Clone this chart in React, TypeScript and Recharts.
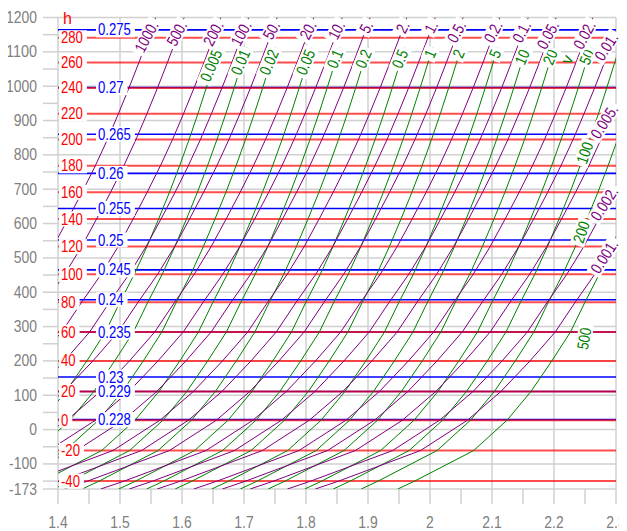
import React from 'react';
import { LineChart, Line, XAxis, YAxis, ReferenceLine, ReferenceDot } from 'recharts';

const FONT = "'Liberation Sans', Arial, sans-serif";
const GRID = '#d0d0d0';
const X_MIN = 1.4;
const X_MAX = 2.3;
const Y_MIN = -173;
const Y_MAX = 1200;

// axis ticks
const xMajorTicks = [1.4, 1.5, 1.6, 1.7, 1.8, 1.9, 2.0, 2.1, 2.2, 2.3];
const xTickLabels = ['1.4', '1.5', '1.6', '1.7', '1.8', '1.9', '2', '2.1', '2.2', '2.3'];
const xMinorTicks = [1.45, 1.55, 1.65, 1.75, 1.85, 1.95, 2.05, 2.15, 2.25];
const yMajorTicks = [-173, -100, 0, 100, 200, 300, 400, 500, 600, 700, 800, 900, 1000, 1100, 1200];
const yMinorTicks = [-150, -50, 50, 150, 250, 350, 450, 550, 650, 750, 850, 950, 1050, 1150];

// isotherms (red)
const tempLabels = ['-40', '-20', '0', '20', '40', '60', '80', '100', '120', '140', '160', '180', '200', '220', '240', '260', '280'];
const tempH = [-150, -61, 27, 111, 200, 284, 371, 452, 533, 613, 691, 768, 845, 920, 995, 1069, 1141];

// blue lines
const blueLabels = ['0.228', '0.229', '0.23', '0.235', '0.24', '0.245', '0.25', '0.255', '0.26', '0.265', '0.27', '0.275'];
const blueH = [29, 111, 153, 284, 378, 465, 552, 644, 746, 860, 996, 1164];

// isobars (purple): h levels, s offset along the curve, start s per curve
const purpleH = [-173, -150, -61, 27, 111, 200, 284, 371, 452, 533, 613, 691, 768, 845, 920, 995, 1069, 1141, 1200];
const purpleShape = [0, 0.0377, 0.1697, 0.2452, 0.2994, 0.3463, 0.3869, 0.4192, 0.4506, 0.4781, 0.5021, 0.5248, 0.5461, 0.5658, 0.5835, 0.6005, 0.6165, 0.6316, 0.6435];
const purpleLabels = ['1000.', '500.', '200.', '100.', '50.', '20.', '10.', '5.', '2.', '1.', '0.5.', '0.2.', '0.1.', '0.05.', '0.02.', '0.01.', '0.005.', '0.002.', '0.001.'];
const purpleStart = [0.914, 0.960, 1.019, 1.064, 1.110, 1.169, 1.215, 1.260, 1.319, 1.365, 1.410, 1.469, 1.515, 1.560, 1.619, 1.665, 1.710, 1.770, 1.815];

// isochores (green)
const greenH = [-173, -150, -61, 27, 111, 200, 284, 371, 452, 533, 613, 691, 768, 845, 920, 995, 1069, 1112];
const greenShape = [0, 0.0273, 0.1224, 0.1761, 0.2148, 0.2485, 0.2785, 0.3019, 0.3250, 0.3455, 0.3642, 0.3818, 0.3981, 0.4135, 0.4277, 0.4411, 0.4539, 0.4613];
const greenLabels = ['0.005', '0.01', '0.02', '0.05', '0.1', '0.2', '0.5', '1', '2', '5', '10', '20', '50', '100', '200', '500'];
const greenStart = [1.198, 1.243, 1.289, 1.348, 1.393, 1.439, 1.498, 1.543, 1.589, 1.648, 1.694, 1.739, 1.798, 1.844, 1.889, 1.948];
const greenLabelH: (number | null)[] = [null, null, null, null, null, null, null, null, null, null, null, null, null, 806, 575, 265];

type Pt = { s: number; h: number };

const purpleSeries: Pt[][] = purpleStart.map((s0) => purpleH.map((h, i) => ({ s: s0 + purpleShape[i], h })));
const greenSeries: Pt[][] = greenStart.map((s0) => greenH.map((h, i) => ({ s: s0 + greenShape[i], h })));

function exitPoint(pts: Pt[]): Pt & { edge: string } {
  for (let i = 1; i < pts.length; i++) {
    if (pts[i].s > X_MAX) {
      const a = pts[i - 1];
      const b = pts[i];
      const t = (X_MAX - a.s) / (b.s - a.s);
      return { s: X_MAX, h: a.h + t * (b.h - a.h), edge: 'right' };
    }
  }
  const last = pts[pts.length - 1];
  return { s: last.s, h: last.h, edge: 'top' };
}

function pointAtH(pts: Pt[], h: number): Pt {
  for (let i = 1; i < pts.length; i++) {
    if (pts[i].h >= h) {
      const a = pts[i - 1];
      const b = pts[i];
      const t = (h - a.h) / (b.h - a.h);
      return { s: a.s + t * (b.s - a.s), h };
    }
  }
  return pts[pts.length - 1];
}

// narrow (condensed) text width estimate
function textWidth(t: string, size: number) {
  let w = 0;
  for (const ch of t) {
    if (ch === '.') w += 0.228;
    else if (ch === '-') w += 0.273;
    else w += 0.456;
  }
  return w * size;
}

const NText = (props: any) => {
  const { children, size, ...rest } = props;
  const str = String(children);
  return (
    <text
      {...rest}
      fontSize={size}
      fontFamily={FONT}
      textLength={textWidth(str, size)}
      lengthAdjust="spacingAndGlyphs"
    >
      {str}
    </text>
  );
};

const FS = 16;

const CurveLabel = (props: any) => {
  const { cx, cy, text, color, angle, anchor, dx = 0, dy = 0 } = props;
  const w = textWidth(text, FS) + 6;
  const hh = 15;
  const rx = anchor === 'end' ? -w : -w / 2;
  const tx = anchor === 'end' ? -3 : 0;
  return (
    <g transform={`translate(${cx + dx},${cy + dy}) rotate(${angle})`}>
      <rect x={rx} y={-hh / 2} width={w} height={hh} fill="#ffffff" />
      <NText x={tx} y={0} size={FS} textAnchor={anchor} dominantBaseline="central" fill={color}>
        {text}
      </NText>
    </g>
  );
};

const LineLabel = (props: any) => {
  const { cx, cy, text, color, offset } = props;
  const w = textWidth(text, FS);
  return (
    <g>
      <rect x={cx + offset - 2} y={cy - 7.5} width={w + 6} height={15} fill="#ffffff" />
      <NText x={cx + offset} y={cy} size={FS} dominantBaseline="central" fill={color}>
        {text}
      </NText>
    </g>
  );
};

const XTick = (props: any) => {
  const { x, y, payload } = props;
  const idx = xMajorTicks.findIndex((v) => Math.abs(v - payload.value) < 1e-6);
  if (idx < 0) return <g />;
  return (
    <NText x={x} y={y + 22} size={17} textAnchor="middle" fill="#808080">
      {xTickLabels[idx]}
    </NText>
  );
};

const YTick = (props: any) => {
  const { x, y, payload } = props;
  if (!yMajorTicks.includes(payload.value)) return <g />;
  return (
    <NText x={x - 4} y={y} size={17} textAnchor="end" dominantBaseline="central" fill="#808080">
      {String(payload.value)}
    </NText>
  );
};

const xAllTicks = [...xMajorTicks, ...xMinorTicks].sort((a, b) => a - b);
const yAllTicks = [...yMajorTicks, ...yMinorTicks].sort((a, b) => a - b);

export default function App() {
  return (
    <LineChart width={619} height={523} margin={{ top: 9.5, right: 11, bottom: 2, left: 0 }}>
      <XAxis
        type="number"
        dataKey="s"
        domain={[X_MIN, X_MAX]}
        allowDataOverflow
        ticks={xAllTicks}
        interval={0}
        tickSize={15}
        tickLine={{ stroke: GRID, strokeWidth: 1.5 }}
        axisLine={false}
        height={40}
        tick={XTick}
      />
      <YAxis
        type="number"
        domain={[Y_MIN, Y_MAX]}
        allowDataOverflow
        ticks={yAllTicks}
        interval={0}
        tickSize={15}
        tickLine={{ stroke: GRID, strokeWidth: 1.5 }}
        axisLine={false}
        width={50}
        tick={YTick}
      />
      {yMajorTicks.map((v) => (
        <ReferenceLine key={'gy' + v} y={v} stroke={GRID} strokeWidth={1.5} ifOverflow="visible" />
      ))}
      {xMajorTicks.map((v) => (
        <ReferenceLine key={'gx' + v} x={v} stroke={GRID} strokeWidth={1.5} ifOverflow="visible" />
      ))}
      {blueH.map((h, i) => (
        <ReferenceLine key={'b' + i} y={h} stroke="#0000ff" strokeWidth={1.6} />
      ))}
      {tempH.map((h, i) => (
        <ReferenceLine key={'r' + i} y={h} stroke="#ff0000" strokeOpacity={0.7} strokeWidth={2} />
      ))}
      {greenSeries.map((d, i) => (
        <Line
          key={'g' + i}
          data={d}
          dataKey="h"
          type="linear"
          stroke="#008000"
          strokeWidth={1}
          dot={false}
          activeDot={false}
          isAnimationActive={false}
        />
      ))}
      {purpleSeries.map((d, i) => (
        <Line
          key={'p' + i}
          data={d}
          dataKey="h"
          type="linear"
          stroke="#800080"
          strokeWidth={1}
          dot={false}
          activeDot={false}
          isAnimationActive={false}
        />
      ))}
      {tempH.map((h, i) => (
        <ReferenceDot
          key={'rl' + i}
          x={X_MIN}
          y={h}
          r={0}
          ifOverflow="visible"
          shape={(p: any) => <LineLabel cx={p.cx} cy={p.cy} text={tempLabels[i]} color="#ff0000" offset={3} />}
        />
      ))}
      {blueH.map((h, i) => (
        <ReferenceDot
          key={'bl' + i}
          x={X_MIN}
          y={h}
          r={0}
          ifOverflow="visible"
          shape={(p: any) => <LineLabel cx={p.cx} cy={p.cy} text={blueLabels[i]} color="#0000ff" offset={40} />}
        />
      ))}
      {greenSeries.map((d, i) => {
        const lh = greenLabelH[i];
        const pt = lh == null ? exitPoint(d) : pointAtH(d, lh);
        const angle = lh == null ? -67 : i === 15 ? -80 : -71;
        const anchor = lh == null ? 'end' : 'middle';
        const dx = i === 15 ? 18 : 0;
        return (
          <ReferenceDot
            key={'gl' + i}
            x={pt.s}
            y={pt.h}
            r={0}
            ifOverflow="visible"
            shape={(p: any) => (
              <CurveLabel cx={p.cx} cy={p.cy} text={greenLabels[i]} color="#008000" angle={angle} anchor={anchor} dx={dx} />
            )}
          />
        );
      })}
      {purpleSeries.map((d, i) => {
        const pt = exitPoint(d);
        const angle = pt.edge === 'right' ? -57 : -62;
        return (
          <ReferenceDot
            key={'pl' + i}
            x={pt.s}
            y={pt.h}
            r={0}
            ifOverflow="visible"
            shape={(p: any) => (
              <CurveLabel cx={p.cx} cy={p.cy} text={purpleLabels[i]} color="#800080" angle={angle} anchor="end" dx={0} dy={pt.edge === 'top' ? 2 : 0} />
            )}
          />
        );
      })}
      <ReferenceDot
        x={X_MIN}
        y={Y_MAX}
        r={0}
        ifOverflow="visible"
        shape={(p: any) => (
          <text x={p.cx + 5} y={p.cy + 6} fill="#ff0000" fontSize={FS} fontFamily={FONT}>
            h
          </text>
        )}
      />
      <ReferenceDot
        x={2.221}
        y={1078}
        r={0}
        ifOverflow="visible"
        shape={(p: any) => (
          <text x={p.cx} y={p.cy} transform={`rotate(-67 ${p.cx} ${p.cy})`} textAnchor="middle" dominantBaseline="central" fill="#008000" fontSize={FS} fontFamily={FONT}>
            v
          </text>
        )}
      />
      <ReferenceDot
        x={X_MAX}
        y={504}
        r={0}
        ifOverflow="visible"
        shape={(p: any) => (
          <text x={p.cx + 9} y={p.cy} transform={`rotate(-60 ${p.cx + 9} ${p.cy})`} textAnchor="middle" dominantBaseline="central" fill="#800080" fontSize={FS} fontFamily={FONT}>
            p
          </text>
        )}
      />
    </LineChart>
  );
}
